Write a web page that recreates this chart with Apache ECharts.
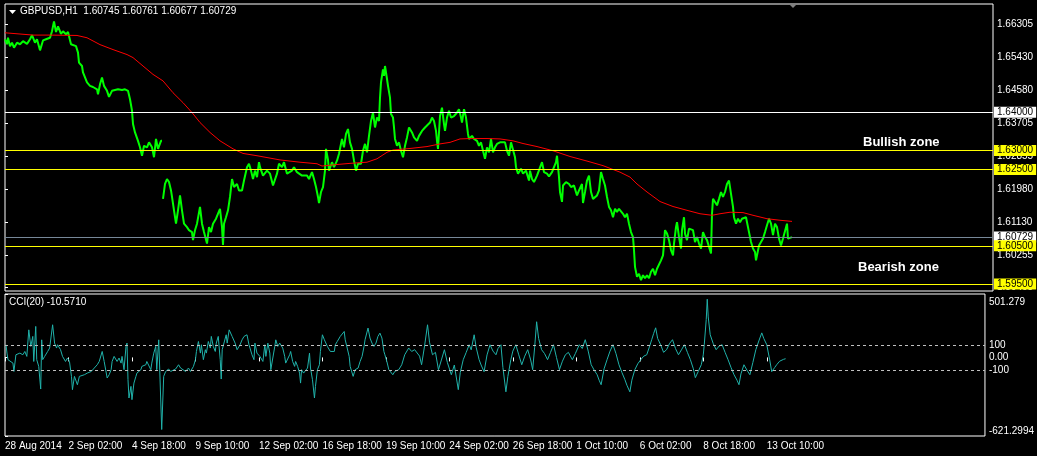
<!DOCTYPE html>
<html><head><meta charset="utf-8">
<script src="https://cdn.jsdelivr.net/npm/echarts@6/dist/echarts.min.js"></script>
<style>html,body{margin:0;padding:0;background:#000;}#c{width:1037px;height:456px;}</style>
</head><body><div id="c"></div>
<script>
// ---- data ----
const symbolTitle = 'GBPUSD,H1  1.60745 1.60761 1.60677 1.60729';
const cciTitle = 'CCI(20) -10.5710';
const timeLabels = ['28 Aug 2014','2 Sep 02:00','4 Sep 18:00','9 Sep 10:00','12 Sep 02:00','16 Sep 18:00','19 Sep 10:00','24 Sep 02:00','26 Sep 18:00','1 Oct 10:00','6 Oct 02:00','8 Oct 18:00','13 Oct 10:00'];
const timeTickBars = [0,64,128,192,256,320,384,448,512,576,640,704,768];
const priceTicks = [1.59405,1.60255,1.61130,1.61980,1.62855,1.63705,1.64580,1.65430,1.66305];
const levelValues = [1.64000,1.63000,1.62500,1.60729,1.60500,1.59500];
const zoneLabels = ['Bullish zone','Bearish zone'];
const cciTicks = [-621.2994,-100,0,100,501.279];
const cciTickLabels = ['-621.2994','-100','0.00','100','501.279'];
const cciLevels = [100,-100];

// [bar, close]  ('-' = gap)
const price = [[0,1.6591],[2,1.6578],[3,1.6595],[5,1.6573],[7,1.6582],[9,1.6569],[12,1.6582],[15,1.6578],[18,1.6586],[22,1.6579],[25,1.6591],[27,1.6602],[30,1.6582],[32,1.6591],[35,1.6562],[38,1.6588],[41,1.6591],[45,1.6595],[47,1.6612],[49,1.6638],[51,1.6610],[53,1.6625],[56,1.6605],[58,1.6612],[61,1.6604],[63,1.6610],[66,1.6578],[68,1.6582],[71,1.6573],[73,1.6556],[74,1.6530],[77,1.6521],[78,1.6504],[80,1.6491],[82,1.6478],[85,1.6469],[88,1.6466],[92,1.6460],[93,1.6447],[95,1.6473],[97,1.6491],[99,1.6469],[102,1.6456],[104,1.6440],[107,1.6456],[110,1.6458],[113,1.6460],[117,1.6458],[120,1.6460],[123,1.6456],[125,1.6434],[127,1.6404],[128,1.6369],[130,1.6347],[132,1.6343],[133,1.6325],[135,1.6308],[137,1.6286],[139,1.6312],[142,1.6308],[144,1.6321],[147,1.6308],[149,1.6282],[151,1.6330],[153,1.6304],[156,1.6325],[157,1.6325],
[157.5,'-'],
[158,1.6173],[160,1.6212],[162,1.6225],[164,1.6217],[166,1.6195],[167,1.6178],[169,1.6143],[171,1.6108],[173,1.6143],[175,1.6182],[177,1.6143],[179,1.6108],[182,1.6099],[184,1.6091],[187,1.6086],[188,1.6065],[190,1.6091],[192,1.6108],[195,1.6152],[197,1.6108],[199,1.6086],[202,1.6056],[204,1.6099],[206,1.6086],[208,1.6108],[211,1.6121],[213,1.6117],[215,1.6147],[217,1.6099],[218,1.6052],[219,1.6108],[221,1.6125],[223,1.6143],[225,1.6178],[227,1.6225],[229,1.6204],[232,1.6212],[234,1.6195],[237,1.6195],[239,1.6221],[242,1.6256],[244,1.6265],[246,1.6247],[248,1.6225],[250,1.6247],[252,1.6230],[254,1.6269],
[255,1.6256],[258,1.6234],[262,1.6247],[265,1.6239],[268,1.6208],[272,1.6239],[274,1.6265],[277,1.6256],[279,1.6269],[282,1.6239],[284,1.6234],[287,1.6247],[289,1.6256],[292,1.6243],[294,1.6247],[297,1.6234],[299,1.6230],[302,1.6234],[304,1.6225],[307,1.6243],[309,1.6225],[311,1.6204],[313,1.6178],[314,1.6162],[316,1.6191],[318,1.6204],[320,1.6247],[321,1.6304],[323,1.6275],[324,1.6247],[327,1.6269],[329,1.6256],[332,1.6273],[334,1.6291],[337,1.6330],[339,1.6308],[341,1.6343],[343,1.6356],[345,1.6321],[347,1.6304],[349,1.6273],[351,1.6247],[353,1.6265],[356,1.6265],[358,1.6299],[360,1.6317],[362,1.6295],[364,1.6338],[366,1.6377],[368,1.6399],[370,1.6360],[372,1.6386],[374,1.6377],[375,1.6438],[376,1.6478],[378,1.6512],[379,1.6495],[380,1.6521],[382,1.6487],[383,1.6469],[385,1.6438],[386,1.6395],[388,1.6386],[389,1.6360],[390,1.6330],[392,1.6312],[394,1.6321],[396,1.6299],[398,1.6282],[400,1.6312],[402,1.6334],[404,1.6360],[407,1.6347],[409,1.6334],[412,1.6325],[414,1.6338],[417,1.6351],[420,1.6360],[422,1.6365],[425,1.6373],[427,1.6386],[429,1.6377],[431,1.6351],[432,1.6325],[433,1.6304],[435,1.6390],[437,1.6412],[439,1.6369],[440,1.6351],[442,1.6386],[444,1.6404],[446,1.6386],[449,1.6390],[452,1.6399],[454,1.6408],[456,1.6386],[457,1.6373],[459,1.6408],[461,1.6386],[463,1.6343],[464,1.6330],[467,1.6338],[469,1.6330],[472,1.6325],[474,1.6312],[476,1.6321],[478,1.6299],[480,1.6278],[482,1.6308],[484,1.6295],[486,1.6330],[488,1.6295],[490,1.6308],[492,1.6317],[495,1.6321],[497,1.6325],[500,1.6321],[502,1.6299],[504,1.6286],[506,1.6321],[508,1.6325],[510,1.6282],[511,1.6256],[513,1.6239],[516,1.6252],[518,1.6239],[521,1.6247],[524,1.6221],
[525,1.6247],[527,1.6225],[529,1.6217],[532,1.6234],[534,1.6239],[537,1.6269],[539,1.6243],[542,1.6239],[544,1.6232],[547,1.6243],[549,1.6256],[551,1.6269],[552,1.6286],[554,1.6230],[555,1.6191],[557,1.6165],[558,1.6208],[561,1.6217],[564,1.6212],[566,1.6204],[569,1.6208],[572,1.6182],[574,1.6195],[577,1.6212],[578,1.6162],[580,1.6191],[582,1.6221],[584,1.6234],[586,1.6191],[588,1.6173],[590,1.6178],[592,1.6182],[594,1.6195],[596,1.6243],[598,1.6225],[600,1.6208],[602,1.6178],[604,1.6152],[606,1.6143],[608,1.6125],[610,1.6147],[612,1.6139],[614,1.6147],[616,1.6152],[618,1.6134],[620,1.6125],[622,1.6134],[624,1.6108],[626,1.6086],[628,1.6073],[629,1.6039],[630,1.5995],[632,1.5969],[634,1.5977],[636,1.5960],[638,1.5973],[640,1.5965],[642,1.5973],[644,1.5965],[646,1.5982],[648,1.5990],[650,1.5973],[652,1.5990],[654,1.5995],[656,1.6012],[658,1.6025],[659,1.6056],[660,1.6091],[662,1.6082],[664,1.6065],[666,1.6039],[668,1.6025],[669,1.6056],[671,1.6099],[672,1.6112],[674,1.6073],[676,1.6043],[677,1.6091],[679,1.6125],[680,1.6082],[682,1.6065],[684,1.6095],[686,1.6099],[688,1.6091],[690,1.6060],[692,1.6073],[694,1.6056],[696,1.6043],[698,1.6086],[700,1.6073],[702,1.6065],[704,1.6069],[706,1.6030],[707,1.6134],[708,1.6173],[710,1.6165],[712,1.6156],[714,1.6173],[716,1.6191],[718,1.6178],[720,1.6191],[722,1.6212],[724,1.6221],[726,1.6186],[728,1.6152],[729,1.6125],[731,1.6108],[733,1.6121],[735,1.6112],[737,1.6121],[739,1.6117],[741,1.6125],[743,1.6121],[744,1.6086],[746,1.6060],[748,1.6043],[750,1.6034],[751,1.6012],[752,1.6025],[754,1.6051],[756,1.6060],[758,1.6069],[760,1.6086],[762,1.6104],[764,1.6121],[766,1.6108],[768,1.6078],[770,1.6108],[772,1.6099],[774,1.6069],[776,1.6051],[778,1.6069],[780,1.6065],[782,1.6108],[783,1.6069],[785,1.6065],[787,1.60729]];

// [bar, moving average]
const ma = [[0,1.6608],[28,1.6602],[45,1.6602],[72,1.6601],[82,1.6595],[95,1.6577],[108,1.6564],[122,1.6551],[128,1.6543],[138,1.6521],[148,1.6499],[158,1.6482],[168,1.6451],[178,1.6425],[187,1.6399],[195,1.6373],[205,1.6347],[215,1.6325],[228,1.6304],[238,1.6292],[252,1.6286],[275,1.6275],[295,1.6269],[312,1.6265],[317,1.6259],[332,1.6263],[345,1.6266],[362,1.6269],[372,1.6278],[382,1.6295],[388,1.6301],[405,1.6305],[422,1.6310],[435,1.6317],[445,1.6321],[455,1.6330],[465,1.6331],[482,1.6331],[495,1.6330],[508,1.6325],[518,1.6318],[532,1.6310],[548,1.6299],[565,1.6284],[582,1.6272],[598,1.6260],[615,1.6243],[625,1.6230],[632,1.6212],[642,1.6191],[655,1.6166],[668,1.6153],[682,1.6143],[695,1.6134],[707,1.6130],[715,1.6134],[725,1.6138],[738,1.6137],[748,1.6130],[762,1.6121],[775,1.6117],[787,1.6114]];

// [bar, CCI(20)]
const cci = [[1,100],[2,34],[3,-18],[5,-32],[8,-45],[9,-111],[11,21],[13,8],[15,34],[18,21],[20,47],[22,8],[24,218],[26,87],[28,166],[29,-32],[31,245],[32,-18],[34,-71],[36,-250],[37,139],[38,-18],[40,8],[42,21],[43,47],[45,74],[48,258],[50,113],[52,74],[53,100],[56,61],[58,8],[61,-32],[63,-5],[65,-32],[67,-150],[68,-255],[70,-150],[72,-137],[73,-216],[75,-150],[77,-145],[80,-137],[83,-124],[87,-111],[90,-84],[93,-58],[95,-32],[97,-18],[98,47],[100,-32],[102,-18],[103,-163],[105,-137],[107,-97],[108,-32],[110,8],[112,-5],[113,-32],[115,-5],[117,-45],[118,8],[120,-97],[122,87],[123,113],[124,-176],[125,-321],[127,-229],[128,-334],[130,-203],[132,-150],[133,-124],[137,-97],[138,-71],[142,-58],[143,-32],[147,-97],[148,-45],[150,34],[152,87],[153,-97],[155,139],[157,126],[158,-570],[160,-150],[162,-111],[163,-97],[165,-92],[167,-111],[168,-97],[172,-92],[175,-58],[177,-84],[178,-97],[182,-111],[185,-84],[187,-111],[188,-97],[190,-71],[192,-18],[193,47],[195,126],[197,34],[198,100],[200,-18],[202,61],[203,34],[205,126],[207,74],[208,166],[210,87],[212,47],[213,113],[215,166],[217,-18],[218,-171],[219,61],[221,74],[223,179],[224,113],[226,218],[228,205],[229,166],[232,113],[234,61],[237,100],[239,139],[241,166],[243,153],[244,179],[246,100],[247,74],[249,21],[251,-18],[252,113],[254,34],[257,8],[258,21],[260,-32],[262,100],[263,8],[265,113],[267,34],[268,-97],[270,-111],[272,87],[273,139],[275,87],[277,113],[278,113],[280,74],[282,8],[283,-45],[285,-32],[287,21],[288,47],[290,-32],[292,-71],[293,-32],[295,-71],[297,-124],[298,-203],[299,-97],[301,-124],[303,-111],[305,-84],[307,34],[308,-84],[310,-176],[312,-321],[313,-229],[315,-97],[317,-58],[318,47],[320,179],[322,139],[325,87],[328,47],[330,61],[332,47],[333,100],[335,126],[338,166],[342,205],[343,139],[345,74],[347,8],[348,-71],[351,-150],[353,-97],[356,-84],[358,-32],[360,8],[362,87],[363,139],[366,232],[368,153],[370,113],[372,87],[374,113],[376,166],[378,192],[380,153],[382,47],[383,21],[385,-32],[387,-97],[388,-111],[391,-137],[393,-111],[397,-97],[400,-58],[403,21],[407,74],[410,47],[413,61],[415,61],[418,10],[420,-58],[423,90],[426,258],[428,120],[431,21],[434,40],[437,-97],[440,-20],[443,61],[446,-40],[450,-137],[453,-60],[457,-255],[459,-120],[462,-18],[465,40],[468,100],[470,60],[473,179],[475,80],[478,-18],[480,-60],[483,-113],[486,20],[489,100],[492,50],[495,21],[497,70],[500,100],[502,-80],[505,-272],[507,-150],[510,-18],[512,50],[515,100],[518,20],[521,-58],[524,10],[527,61],[530,-20],[532,-97],[534,80],[536,282],[538,150],[541,61],[544,30],[547,-18],[550,40],[553,100],[556,0],[559,-97],[562,-30],[565,21],[568,40],[572,-18],[575,30],[579,100],[582,70],[585,140],[588,50],[591,-58],[594,-100],[597,-137],[599,-180],[601,-216],[604,-90],[607,-18],[610,50],[613,100],[616,30],[619,-58],[622,-120],[625,-176],[627,-220],[630,-272],[632,-180],[635,-97],[638,-50],[641,-18],[644,10],[647,21],[650,90],[652,140],[654,190],[656,234],[658,150],[661,100],[664,40],[667,61],[670,110],[673,140],[676,70],[679,21],[682,60],[685,100],[688,40],[691,-18],[694,-90],[696,-160],[699,-110],[702,-58],[704,20],[705,100],[707,300],[708,460],[709,320],[711,179],[714,110],[717,61],[720,90],[723,100],[726,40],[729,-18],[732,-80],[735,-137],[738,-180],[740,-216],[742,-130],[745,-58],[748,-100],[751,-137],[754,-40],[757,61],[760,130],[763,194],[765,150],[768,100],[771,-20],[773,-113],[776,-80],[778,-58],[781,-30],[783,-18],[785,-15],[787,-10.571]];

// ---- styles ----
const FONT = 'Liberation Sans';
const levelLineColors = ['#ffffff','#ffff00','#ffff00','#778899','#ffff00','#ffff00'];
const levelLabelBg   = ['#ffffff','#ffff00','#ffff00','#ffffff','#ffff00','#ffff00'];

const chart = echarts.init(document.getElementById('c'), null, {renderer:'canvas'});
const option = {
  backgroundColor:'#000000',
  animation:false,
  grid:[
    {left:5, right:44, top:4, height:287, show:true, borderColor:'#ffffff', borderWidth:1},
    {left:5, right:44, top:294, height:142, show:true, borderColor:'#ffffff', borderWidth:1}
  ],
  xAxis:[
    {type:'value', gridIndex:0, min:0, max:988, show:false},
    {type:'value', gridIndex:1, min:0, max:988,
      axisLine:{show:false}, splitLine:{show:false},
      axisTick:{show:true, customValues:timeTickBars, length:4, lineStyle:{color:'#ffffff'}},
      axisLabel:{customValues:timeTickBars, color:'#ffffff', fontFamily:FONT, fontSize:10, align:'left', margin:5,
        formatter:v=>timeLabels[timeTickBars.indexOf(v)]}}
  ],
  yAxis:[
    {type:'value', gridIndex:0, position:'right', min:1.59317, max:1.66834, scale:true,
      axisLine:{show:false}, splitLine:{show:false},
      axisTick:{show:true, customValues:priceTicks, length:3, lineStyle:{color:'#ffffff'}},
      axisLabel:{customValues:priceTicks, color:'#ffffff', fontFamily:FONT, fontSize:10, margin:4,
        formatter:v=>v.toFixed(5)}},
    {type:'value', gridIndex:1, position:'right', min:-621.2994, max:501.279,
      axisLine:{show:false}, splitLine:{show:false},
      axisTick:{show:true, customValues:cciTicks, length:3, lineStyle:{color:'#ffffff'}},
      axisLabel:{customValues:cciTicks, color:'#ffffff', fontFamily:FONT, fontSize:10, margin:4,
        verticalAlignMinLabel:'bottom', verticalAlignMaxLabel:'top',
        rich:{top:{fontFamily:FONT, fontSize:10, color:'#ffffff', padding:[3,0,0,0]}},
        formatter:v=>{const i=cciTicks.indexOf(v); if(i<0) return ''; return i===cciTicks.length-1 ? '{top|'+cciTickLabels[i]+'}' : cciTickLabels[i];}}}
  ],
  series:[
    {type:'line', name:'GBPUSD', xAxisIndex:0, yAxisIndex:0, data:price, showSymbol:false, connectNulls:false,
      lineStyle:{color:'#00ff00', width:2}, itemStyle:{color:'#00ff00'}, z:3, silent:true},
    {type:'line', name:'MA', xAxisIndex:0, yAxisIndex:0, data:ma, showSymbol:false,
      lineStyle:{color:'#ff0000', width:1}, itemStyle:{color:'#ff0000'}, z:4, silent:true,
      markLine:{silent:true, symbol:'none', animation:false, precision:5,
        data: levelValues.map((v,i)=>({yAxis:v,
          lineStyle:{color:levelLineColors[i], width:1, type:'solid'},
          label:{show:true, position:'end', distance:1, formatter:p=>Number(p.value).toFixed(5),
            color:'#000000', backgroundColor:levelLabelBg[i], fontFamily:FONT, fontSize:10, padding:[1,3,0,3]}}))}},
    {type:'line', name:'CCI(20)', xAxisIndex:1, yAxisIndex:1, data:cci, showSymbol:false,
      lineStyle:{color:'#20b2aa', width:1}, itemStyle:{color:'#20b2aa'}, z:3, silent:true,
      markLine:{silent:true, symbol:'none', animation:false, precision:2,
        data: cciLevels.map(v=>({yAxis:v, lineStyle:{color:'#c0c0c0', width:1, type:[3,3]}, label:{show:false}}))}}
  ],
  graphic:[
    {type:'polygon', shape:{points:[[9,10],[16,10],[12.5,14]]}, style:{fill:'#ffffff'}, silent:true},
    {type:'polygon', shape:{points:[[789,4],[797,4],[793,8]]}, style:{fill:'#808080'}, silent:true},
    {type:'text', left:20, top:6, style:{text:symbolTitle, fill:'#ffffff', font:'10px "Liberation Sans"'}, silent:true},
    {type:'text', left:9, top:297, style:{text:cciTitle, fill:'#ffffff', font:'10px "Liberation Sans"'}, silent:true},
    {type:'text', left:863, top:136, style:{text:zoneLabels[0], fill:'#ffffff', font:'bold 13px "Liberation Sans"', shadowColor:'rgba(160,160,160,0.8)', shadowBlur:2, shadowOffsetX:1, shadowOffsetY:1}, silent:true},
    {type:'text', left:858, top:261, style:{text:zoneLabels[1], fill:'#ffffff', font:'bold 13px "Liberation Sans"', shadowColor:'rgba(160,160,160,0.8)', shadowBlur:2, shadowOffsetX:1, shadowOffsetY:1}, silent:true}
  ]
};
chart.setOption(option);
</script>
</body></html>
